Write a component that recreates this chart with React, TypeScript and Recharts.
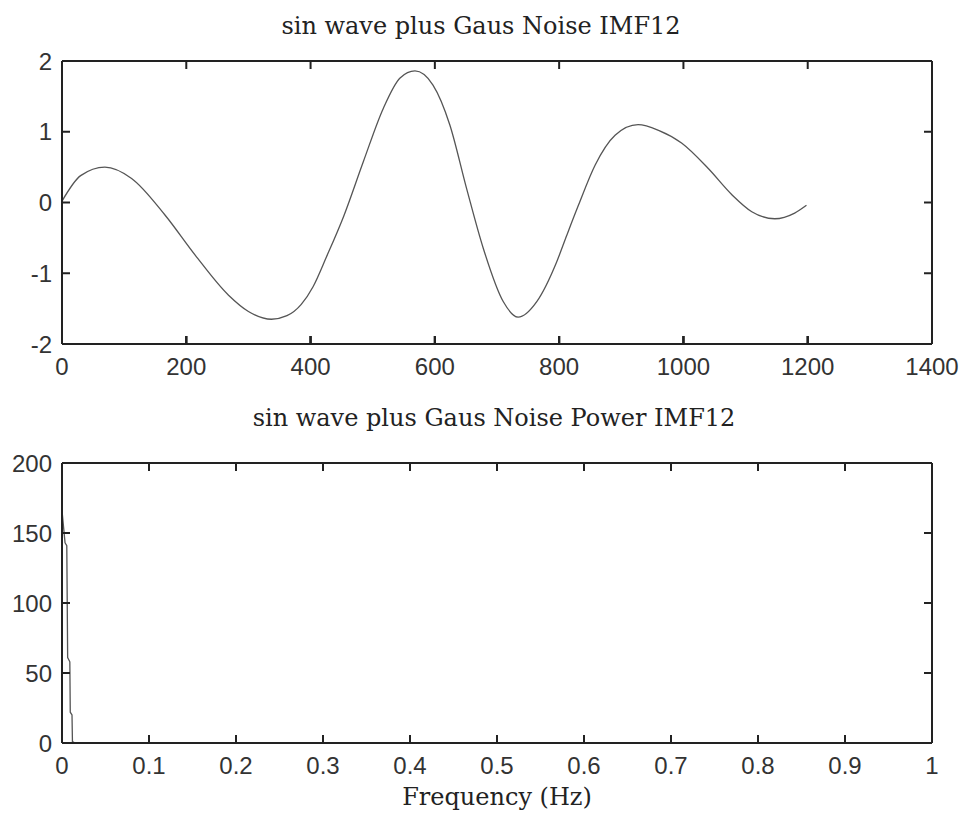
import { LineChart, Line, XAxis, YAxis, ReferenceLine } from "recharts";

// IMF12 (top panel)
const sampleIndex = [
  0, 30, 69, 112, 166, 214, 268, 300, 337, 362, 385, 404, 426, 453, 485, 517, 544, 568, 597, 624,
  651, 678, 710, 734, 764, 796, 812, 831, 858, 890, 927, 960, 997, 1040, 1078, 1110, 1147, 1179, 1198,
];
const imfValues = [
  0.02, 0.38, 0.5, 0.34, -0.18, -0.74, -1.31, -1.54, -1.65, -1.6, -1.44, -1.19, -0.76, -0.2, 0.58,
  1.33, 1.76, 1.86, 1.66, 1.1, 0.2, -0.65, -1.4, -1.62, -1.4, -0.84, -0.47, -0.04, 0.53, 0.95, 1.1,
  1.02, 0.84, 0.48, 0.11, -0.13, -0.23, -0.15, -0.04,
];

// power spectrum (bottom panel)
const freqHz = [0, 0.0035, 0.0055, 0.0065, 0.009, 0.0095, 0.0115, 0.012, 0.015, 0.875];
const powerValues = [166, 143, 141, 61, 58, 22, 20, 1, 0, 0];

const timeTicks = [0, 200, 400, 600, 800, 1000, 1200, 1400];
const ampTicks = [-2, -1, 0, 1, 2];
const freqTicks = [0, 0.1, 0.2, 0.3, 0.4, 0.5, 0.6, 0.7, 0.8, 0.9, 1];
const powerTicks = [0, 50, 100, 150, 200];

const AXIS = "#222";
const TICK_LEN = 8;
const LABEL_GAP_X = 14;
const LABEL_GAP_Y = 10;
const sans = "'Liberation Sans', Arial, sans-serif";
const serif = "'DejaVu Serif', serif";
const axisLine = { stroke: AXIS, strokeWidth: 2 };

const imfData = sampleIndex.map((x, i) => ({ x, y: imfValues[i] }));
const powerData = freqHz.map((f, i) => ({ f, p: powerValues[i] }));

function BottomTick(props: any) {
  const { x, y, payload } = props;
  const base = y - LABEL_GAP_X;
  return (
    <g>
      <line x1={x} x2={x} y1={base} y2={base - TICK_LEN} stroke={AXIS} strokeWidth={2} />
      <text x={x} y={y} dy="0.71em" textAnchor="middle" fontFamily={sans} fontSize={24} fill="#333">
        {String(payload.value)}
      </text>
    </g>
  );
}

function LeftTick(props: any) {
  const { x, y, payload } = props;
  const base = x + LABEL_GAP_Y;
  return (
    <g>
      <line x1={base} x2={base + TICK_LEN} y1={y} y2={y} stroke={AXIS} strokeWidth={2} />
      <text x={x} y={y} dy="0.355em" textAnchor="end" fontFamily={sans} fontSize={24} fill="#333">
        {String(payload.value)}
      </text>
    </g>
  );
}

// top axis also puts the matching inward mark on the bottom edge (span = plot height)
function TopTick(props: any) {
  const { x, y, span } = props;
  return (
    <g>
      <line x1={x} x2={x} y1={y} y2={y + TICK_LEN} stroke={AXIS} strokeWidth={2} />
      <line x1={x} x2={x} y1={y + span} y2={y + span - TICK_LEN} stroke={AXIS} strokeWidth={2} />
    </g>
  );
}

function RightTick(props: any) {
  const { x, y } = props;
  return <line x1={x} x2={x - TICK_LEN} y1={y} y2={y} stroke={AXIS} strokeWidth={2} />;
}

function boxAxes(
  xKey: string,
  yKey: string,
  xDomain: number[],
  xTicks: number[],
  yDomain: number[],
  yTicks: number[],
  plotH: number
) {
  const markH = ((yDomain[1] - yDomain[0]) * TICK_LEN) / plotH;
  return [
    <XAxis
      key="b"
      xAxisId="b"
      dataKey={xKey}
      type="number"
      domain={xDomain}
      ticks={xTicks}
      interval={0}
      orientation="bottom"
      height={40}
      tickSize={0}
      tickMargin={LABEL_GAP_X}
      tickLine={false}
      tick={<BottomTick />}
      axisLine={axisLine}
    />,
    <XAxis
      key="t"
      xAxisId="t"
      dataKey={xKey}
      type="number"
      domain={xDomain}
      ticks={xTicks}
      interval={0}
      orientation="top"
      height={1}
      tickSize={0}
      tickMargin={0}
      tickLine={false}
      tick={<TopTick span={plotH} />}
      axisLine={axisLine}
    />,
    <YAxis
      key="l"
      yAxisId="l"
      dataKey={yKey}
      type="number"
      domain={yDomain}
      ticks={yTicks}
      interval={0}
      orientation="left"
      width={60}
      tickSize={0}
      tickMargin={LABEL_GAP_Y}
      tickLine={false}
      tick={<LeftTick />}
      axisLine={axisLine}
    />,
    <YAxis
      key="r"
      yAxisId="r"
      dataKey={yKey}
      type="number"
      domain={yDomain}
      ticks={yTicks}
      interval={0}
      orientation="right"
      width={1}
      tickSize={0}
      tickMargin={0}
      tickLine={false}
      tick={<RightTick />}
      axisLine={axisLine}
    />,
    ...xTicks.map((t) => (
      <ReferenceLine
        key={`m${t}`}
        xAxisId="b"
        yAxisId="l"
        segment={[
          { x: t, y: yDomain[0] },
          { x: t, y: yDomain[0] + markH },
        ]}
        stroke={AXIS}
        strokeWidth={2}
      />
    )),
  ];
}

function Title({ text, cx, top }: { text: string; cx: number; top: number }) {
  return (
    <div
      style={{
        position: "absolute",
        left: cx,
        top,
        transform: "translateX(-50%)",
        whiteSpace: "nowrap",
        fontFamily: serif,
        fontSize: 24,
        lineHeight: "24px",
        color: "#222",
      }}
    >
      {text}
    </div>
  );
}

export default function App() {
  return (
    <div
      style={{
        position: "absolute",
        left: 0,
        top: 0,
        width: 963,
        height: 815,
        background: "#fff",
        overflow: "hidden",
      }}
    >
      <Title text="sin wave plus Gaus Noise IMF12" cx={481} top={14} />
      <div style={{ position: "absolute", left: 0, top: 0 }}>
        <LineChart
          width={963}
          height={400}
          data={imfData}
          margin={{ top: 60, right: 30, bottom: 16, left: 2 }}
        >
          {boxAxes("x", "y", [0, 1400], timeTicks, [-2, 2], ampTicks, 283)}
          <Line
            xAxisId="b"
            yAxisId="l"
            dataKey="y"
            type="monotone"
            stroke="#555"
            strokeWidth={1.3}
            dot={false}
            isAnimationActive={false}
          />
        </LineChart>
      </div>

      <Title text="sin wave plus Gaus Noise Power IMF12" cx={494} top={406} />
      <div style={{ position: "absolute", left: 0, top: 400 }}>
        <LineChart
          width={963}
          height={415}
          data={powerData}
          margin={{ top: 62, right: 30, bottom: 32, left: 2 }}
        >
          {boxAxes("f", "p", [0, 1], freqTicks, [0, 200], powerTicks, 280)}
          <Line
            xAxisId="b"
            yAxisId="l"
            dataKey="p"
            type="linear"
            stroke="#555"
            strokeWidth={1.3}
            dot={false}
            isAnimationActive={false}
          />
        </LineChart>
      </div>
      <Title text="Frequency (Hz)" cx={497} top={785} />
    </div>
  );
}
